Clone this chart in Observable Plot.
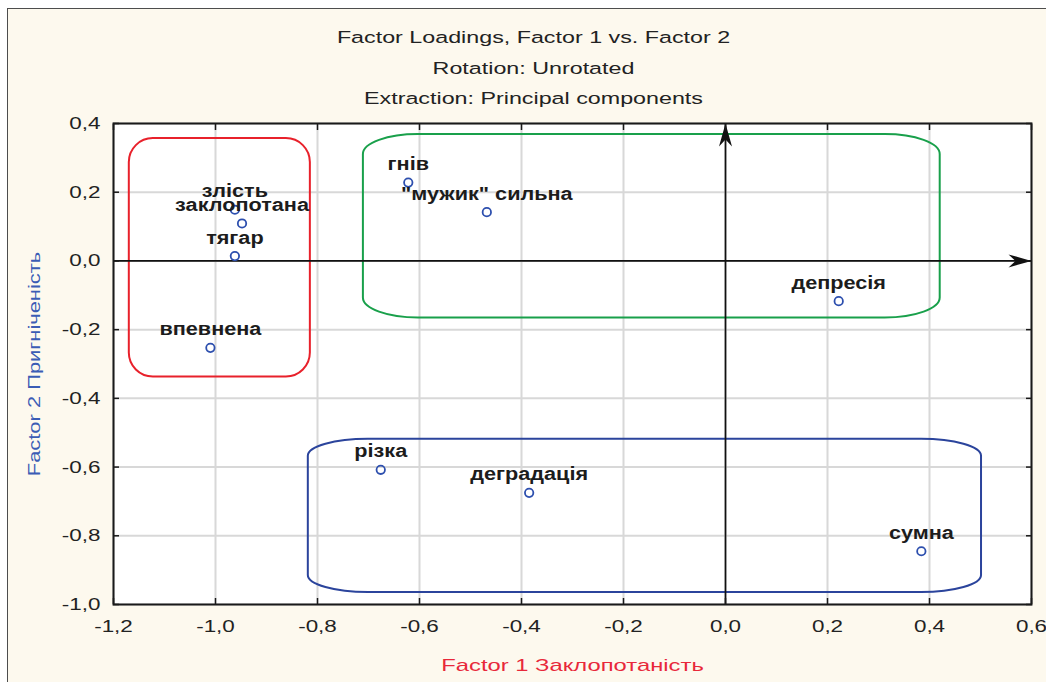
<!DOCTYPE html>
<html><head><meta charset="utf-8">
<script src="https://cdn.jsdelivr.net/npm/d3@7"></script>
<script src="https://cdn.jsdelivr.net/npm/@observablehq/plot@0.6"></script>
<style>
html,body{margin:0;padding:0;background:#fff;}
#wrap{position:relative;width:1046px;height:682px;overflow:hidden;background:#fff;}
#panel{position:absolute;left:7px;top:8px;width:1100px;height:700px;background:#fdf9ee;border-left:1.6px solid #4d4d4d;border-top:1.6px solid #4d4d4d;}
#chart{position:absolute;left:0;top:0;}
</style></head><body>
<div id="wrap"><div id="panel"></div><div id="chart"></div></div>
<script>
const titleLines = ["Factor Loadings, Factor 1 vs. Factor 2", "Rotation: Unrotated", "Extraction: Principal components"];
const xLabel = "Factor 1 Заклопотаність";
const yLabel = "Factor 2 Пригніченість";
const variables = ["злість", "заклопотана", "тягар", "впевнена", "гнів", "\"мужик\" сильна", "депресія", "різка", "деградація", "сумна"];
const factor1 = [-0.962, -0.948, -0.962, -1.010, -0.622, -0.468, 0.222, -0.676, -0.385, 0.384];
const factor2 = [0.149, 0.109, 0.014, -0.253, 0.228, 0.142, -0.117, -0.608, -0.675, -0.845];
const xTicks = [-1.2, -1.0, -0.8, -0.6, -0.4, -0.2, 0.0, 0.2, 0.4, 0.6];
const yTicks = [0.4, 0.2, 0.0, -0.2, -0.4, -0.6, -0.8, -1.0];
const xDomain = [-1.2, 0.6];
const yDomain = [-1.0, 0.4];
// cluster outlines (in factor-loading units)
const groupColors = ["#e8212b", "#19a04b", "#2b449c"];
const groupX1 = [-1.169, -0.710, -0.818];
const groupX2 = [-0.814, 0.421, 0.502];
const groupY1 = [0.356, 0.368, -0.519];
const groupY2 = [-0.338, -0.166, -0.965];
const groupRx = [24, 55, 60];
const groupRy = [24, 20, 17];

const points = variables.map((name, i) => ({name, f1: factor1[i], f2: factor2[i]}));
const groups = groupColors.map((c, i) => ({c, x1: groupX1[i], x2: groupX2[i], y1: groupY1[i], y2: groupY2[i], rx: groupRx[i], ry: groupRy[i]}));
const axisLines = [
  {x1: xDomain[0], y1: 0, x2: xDomain[1], y2: 0},
  {x1: 0, y1: yDomain[0], x2: 0, y2: yDomain[1]}
];
const arrowTips = [{x: xDomain[1], y: 0, rot: 90}, {x: 0, y: yDomain[1], rot: 0}];
const arrowSymbol = {
  draw(ctx) {
    ctx.moveTo(0, 0);
    ctx.lineTo(-6.5, 23);
    ctx.lineTo(0, 16);
    ctx.lineTo(6.5, 23);
    ctx.closePath();
  }
};
const fmt = d => d.toFixed(1).replace(".", ",");
const FONT = "Liberation Sans, Arial, Helvetica, sans-serif";

const marks = [
  Plot.frame({fill: "white", stroke: "none"}),
  Plot.gridX(xTicks, {stroke: "#d8d8d8", strokeOpacity: 1, strokeWidth: 2}),
  Plot.gridY(yTicks, {stroke: "#d8d8d8", strokeOpacity: 1, strokeWidth: 2})
];
groups.forEach(g => {
  marks.push(Plot.rect([g], {x1: "x1", x2: "x2", y1: "y1", y2: "y2", rx: g.rx, ry: g.ry, fill: "none", stroke: g.c, strokeWidth: 2}));
});
marks.push(
  Plot.link(axisLines, {x1: "x1", y1: "y1", x2: "x2", y2: "y2", stroke: "#111", strokeWidth: 1.7}),
  Plot.dot(arrowTips, {x: "x", y: "y", rotate: "rot", symbol: arrowSymbol, r: 5, fill: "#111", stroke: "none"}),
  Plot.dot(points, {x: "f1", y: "f2", r: 4.2, fill: "none", stroke: "#2d4fae", strokeWidth: 1.8}),
  Plot.text(points, {x: "f1", y: "f2", text: "name", dy: -12.5, lineAnchor: "bottom", fontSize: 19, fontWeight: "bold", fill: "#1c1c1c", ariaDescription: "point-labels"}),
  Plot.frame({stroke: "#1a1a1a", strokeWidth: 2}),
  Plot.axisX(xTicks, {anchor: "bottom", tickSize: -6, tickPadding: 21, tickFormat: fmt, fontSize: 17, fill: "#222", stroke: "#1a1a1a", strokeWidth: 1.5, label: null}),
  Plot.axisX(xTicks, {anchor: "top", tickSize: -6, fill: "none", stroke: "#1a1a1a", strokeWidth: 1.5, label: null}),
  Plot.axisY(yTicks, {anchor: "left", tickSize: -6, tickPadding: 19, tickFormat: fmt, fontSize: 17, fill: "#222", stroke: "#1a1a1a", strokeWidth: 1.5, label: null}),
  Plot.axisY(yTicks, {anchor: "right", tickSize: -6, fill: "none", stroke: "#1a1a1a", strokeWidth: 1.5, label: null}),
  Plot.text([titleLines[0]], {text: d => d, frameAnchor: "top", textAnchor: "middle", dx: -39, dy: -86, lineAnchor: "middle", fontSize: 17, fill: "#222", ariaDescription: "title"}),
  Plot.text([titleLines[1]], {text: d => d, frameAnchor: "top", textAnchor: "middle", dx: -39, dy: -55, lineAnchor: "middle", fontSize: 17, fill: "#222", ariaDescription: "title"}),
  Plot.text([titleLines[2]], {text: d => d, frameAnchor: "top", textAnchor: "middle", dx: -39, dy: -25, lineAnchor: "middle", fontSize: 17, fill: "#222", ariaDescription: "title"}),
  Plot.text([xLabel], {text: d => d, frameAnchor: "bottom", textAnchor: "middle", dy: 61, lineAnchor: "middle", fontSize: 17, fill: "#e8283a", ariaDescription: "x-label"}),
  Plot.text([yLabel], {text: d => d, frameAnchor: "left", textAnchor: "middle", dx: -78.5, rotate: -90, lineAnchor: "middle", fontSize: 16, fill: "#3b5cb5", ariaDescription: "y-label"})
);

const chart = Plot.plot({
  width: 1046,
  height: 682,
  marginLeft: 113,
  marginRight: 15,
  marginTop: 123,
  marginBottom: 78,
  style: {background: "transparent", fontFamily: FONT, overflow: "visible"},
  x: {domain: xDomain},
  y: {domain: yDomain},
  marks
});

// widen glyphs horizontally (in each text's own frame) about its anchor
function stretch(svg, label, s) {
  svg.querySelectorAll(`g[aria-label="${label}"] text, g[aria-description="${label}"] text`).forEach(t => {
    const X = parseFloat(t.getAttribute("x")) || 0;
    const T = t.getAttribute("transform") || "";
    t.setAttribute("transform", `${T} translate(${X},0) scale(${s},1) translate(${-X},0)`);
  });
}
stretch(chart, "title", 1.37);
stretch(chart, "x-axis tick label", 1.32);
stretch(chart, "y-axis tick label", 1.32);
stretch(chart, "x-label", 1.40);
stretch(chart, "y-label", 1.37);
stretch(chart, "point-labels", 1.14);

document.getElementById("chart").appendChild(chart);
</script>
</body></html>
